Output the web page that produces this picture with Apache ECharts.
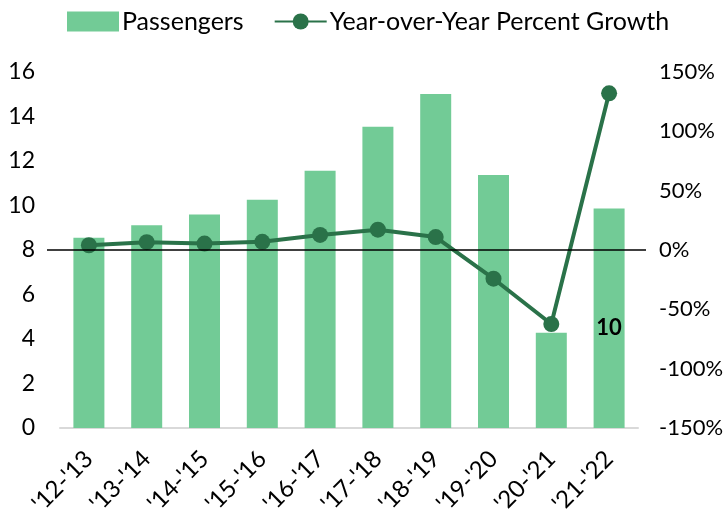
<!DOCTYPE html>
<html>
<head>
<meta charset="utf-8">
<script src="https://cdn.jsdelivr.net/npm/echarts@6/dist/echarts.min.js"></script>
<style>html,body{margin:0;padding:0;background:#fff;}#c{width:725px;height:527px;}</style>
</head>
<body>
<div id="c"></div>
<script>
const categories = ["'12-'13","'13-'14","'14-'15","'15-'16","'16-'17","'17-'18","'18-'19","'19-'20","'20-'21","'21-'22"];
const passengers = [8.55, 9.11, 9.6, 10.26, 11.56, 13.54, 15.01, 11.37, 4.28, 9.87];
const growth = [4, 6.6, 5.4, 6.9, 12.7, 17.1, 10.9, -24.2, -62.4, 132];
const leftTicks = [0, 16, 2];
const rightTicks = [-150, 150, 50];

const FONT = 'Lato';
const chart = echarts.init(document.getElementById('c'));
chart.setOption({
  animation: false,
  textStyle: {fontFamily: FONT},
  legend: {
    top: 4, left: 62,
    itemWidth: 52, itemHeight: 20, itemGap: 30,
    textStyle: {fontFamily: FONT, fontSize: 25, color: '#000', padding: [0, 0, 0, -2]},
    data: [
      {name: 'Passengers', icon: 'rect'},
      {name: 'Year-over-Year Percent Growth'}
    ]
  },
  grid: {left: 60, right: 87, top: 72, bottom: 99, outerBoundsMode: 'none', containLabel: false},
  xAxis: {
    type: 'category', data: categories,
    axisTick: {show: false},
    axisLine: {lineStyle: {color: '#D9D9D9', width: 2}},
    axisLabel: {rotate: 45, fontSize: 24, color: '#000', margin: 27, interval: 0}
  },
  yAxis: [
    {type: 'value', min: leftTicks[0], max: leftTicks[1], interval: leftTicks[2],
     splitLine: {show: false}, axisLine: {show: false}, axisTick: {show: false},
     axisLabel: {fontSize: 23, color: '#000', margin: 25}},
    {type: 'value', min: rightTicks[0], max: rightTicks[1], interval: rightTicks[2],
     splitLine: {show: false}, axisLine: {show: false}, axisTick: {show: false},
     axisLabel: {fontSize: 22, color: '#000', margin: 21, formatter: '{value}%'}}
  ],
  series: [
    {
      name: 'Passengers', type: 'bar', data: passengers.map((v, i) => i === passengers.length - 1 ? {
        value: v,
        label: {show: true, position: 'inside', offset: [0, 10], fontSize: 22, fontWeight: 'bold', color: '#000',
                formatter: p => Math.round(p.value)}
      } : v),
      barWidth: 31,
      itemStyle: {color: '#72CB96'},
      z: 1
    },
    {
      name: 'Year-over-Year Percent Growth', type: 'line', yAxisIndex: 1, data: growth,
      symbol: 'circle', symbolSize: 16,
      lineStyle: {color: '#2A7249', width: 4},
      itemStyle: {color: '#2A7249'},
      markLine: {
        silent: true, symbol: 'none', label: {show: false},
        lineStyle: {color: '#000', width: 1.5, type: 'solid'},
        data: [[{yAxis: 0, x: 47}, {yAxis: 0, x: 646}]]
      },
      z: 3
    }
  ]
});
</script>
</body>
</html>
